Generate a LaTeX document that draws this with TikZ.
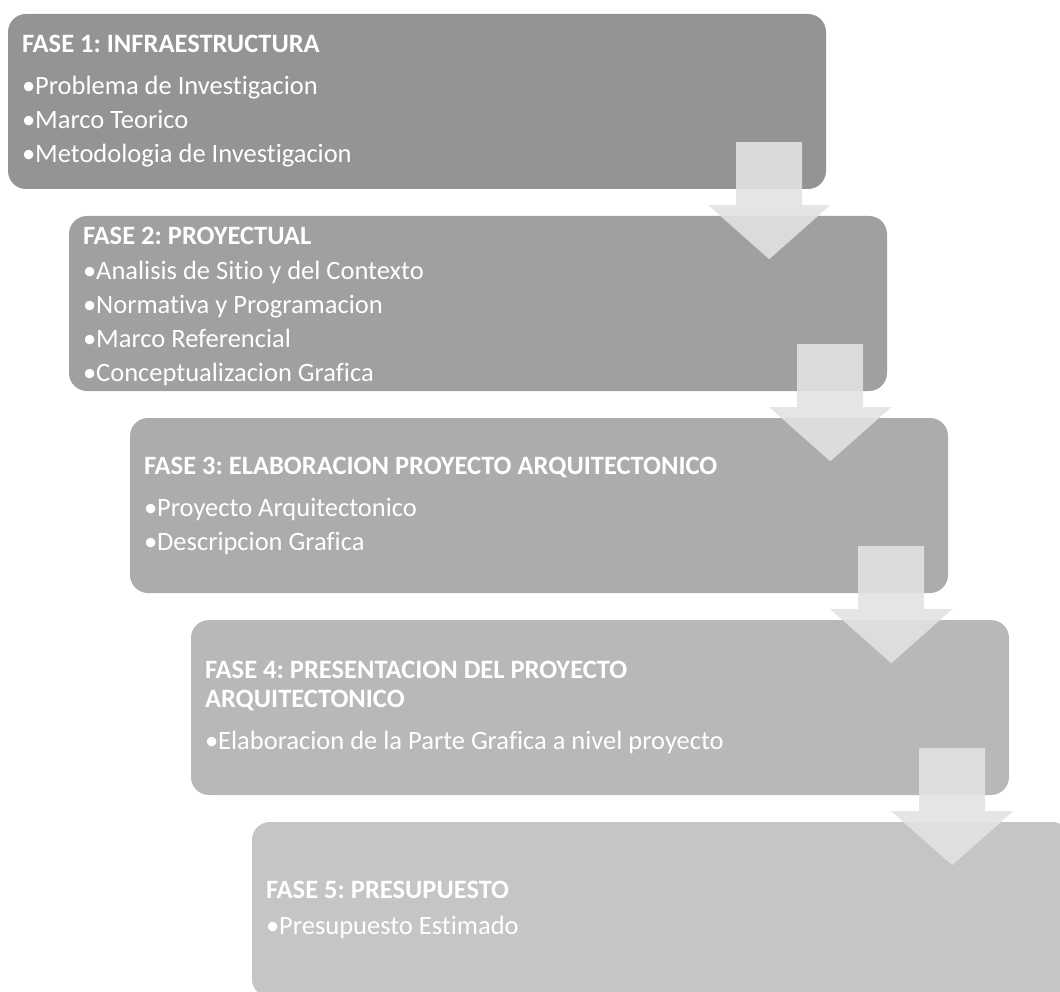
\documentclass[tikz,border=0pt]{standalone}
\usepackage{fontspec}
\setmainfont{Carlito}[Ligatures=NoCommon]
\frenchspacing
\usepackage{tikz}
\usetikzlibrary{calc,positioning}
\definecolor{fase1}{RGB}{148,148,148}
\definecolor{fase2}{RGB}{160,160,160}
\definecolor{fase3}{RGB}{172,172,172}
\definecolor{fase4}{RGB}{184,184,184}
\definecolor{fase5}{RGB}{197,197,197}
\definecolor{stepgray}{RGB}{226,226,226}
\tikzstyle{fase}=[
  rectangle, rounded corners=18pt, minimum width=818pt, minimum height=175pt, inner sep=0pt
]
\tikzstyle{fasetext}=[
  text=white, align=left, inner sep=0pt, anchor=west, font=\fontsize{26.5}{34}\selectfont
]
\tikzstyle{stepfill}=[
  fill=stepgray, fill opacity=0.9
]
\newcommand{\fasetitle}[1]{{\bfseries #1}}
\newcommand{\faseitem}[1]{\textbullet#1}
\newcommand{\stepdown}[1]{%
  \fill[stepfill] (#1) ++(-33pt,0) -- ++(66pt,0) -- ++(0,-63pt) -- ++(28pt,0)
    -- ++(-61pt,-54pt) -- ++(-61pt,54pt) -- ++(28pt,0) -- cycle;}

\begin{document}
\begin{tikzpicture}
  \def\dx{61pt}
  \def\dy{202pt}
  \useasboundingbox (0,0) rectangle (1060pt,-992pt);
  \clip (0,0) rectangle (1060pt,-992pt);

  \node (f1) at (417pt,-101.5pt) [fase, fill=fase1] {};
  \node (f2) at ($(f1) + (\dx, -\dy)$) [fase, fill=fase2] {};
  \node (f3) at ($(f2) + (\dx, -\dy)$) [fase, fill=fase3] {};
  \node (f4) at ($(f3) + (\dx, -\dy)$) [fase, fill=fase4] {};
  \node (f5) at ($(f4) + (\dx, -\dy)$) [fase, fill=fase5] {};

  \node (t1) at ($(f1.west) + (14pt,0)$) [fasetext] {%
    \fasetitle{FASE 1: INFRAESTRUCTURA}\\[8pt]
    \faseitem{Problema de Investigacion}\\
    \faseitem{Marco Teorico}\\
    \faseitem{Metodologia de Investigacion}};
  \node (t2) at ($(f2.west) + (14pt,-3pt)$) [fasetext] {%
    \fasetitle{FASE 2: PROYECTUAL}\\[1pt]
    \faseitem{Analisis de Sitio y del Contexto}\\
    \faseitem{Normativa y Programacion}\\
    \faseitem{Marco Referencial}\\
    \faseitem{Conceptualizacion Grafica}};
  \node (t3) at ($(f3.west) + (14pt,0)$) [fasetext] {%
    \fasetitle{FASE 3: ELABORACION PROYECTO ARQUITECTONICO}\\[8pt]
    \faseitem{Proyecto Arquitectonico}\\
    \faseitem{Descripcion Grafica}};
  \node (t4) at ($(f4.west) + (14pt,0)$) [fasetext] {%
    \fasetitle{FASE 4: PRESENTACION DEL PROYECTO}\\[-5pt]
    \fasetitle{ARQUITECTONICO}\\[8pt]
    \faseitem{Elaboracion de la Parte Grafica a nivel proyecto}};
  \node (t5) at ($(f5.west) + (14pt,0)$) [fasetext] {%
    \fasetitle{FASE 5: PRESUPUESTO}\\[2pt]
    \faseitem{Presupuesto Estimado}};

  \coordinate (s1) at ($(f1.south east) + (-57pt, 47pt)$);
  \coordinate (s2) at ($(f2.south east) + (-57pt, 47pt)$);
  \coordinate (s3) at ($(f3.south east) + (-57pt, 47pt)$);
  \coordinate (s4) at ($(f4.south east) + (-57pt, 47pt)$);
  \stepdown{s1}
  \stepdown{s2}
  \stepdown{s3}
  \stepdown{s4}
\end{tikzpicture}
\end{document}
